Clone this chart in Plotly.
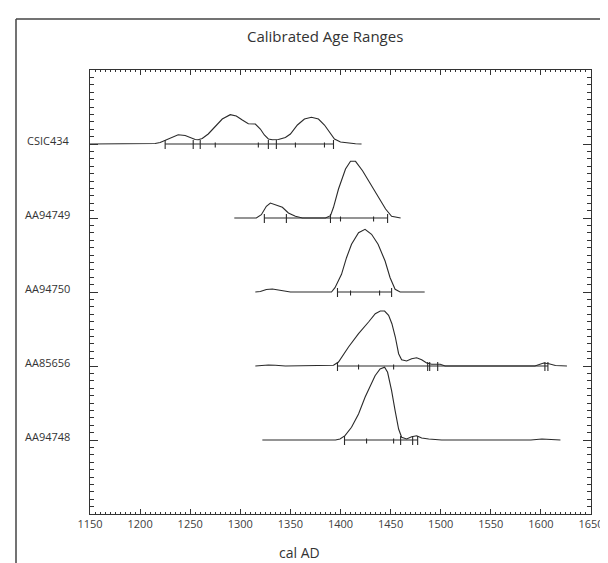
import plotly.graph_objects as go

# ---------------- data ----------------
samples = ["CSIC434", "AA94749", "AA94750", "AA85656", "AA94748"]

# calibrated probability curves (year AD, relative probability)
csic434_year = [1140, 1175, 1185, 1200, 1203, 1205, 1215, 1220, 1225, 1232, 1238, 1245, 1250, 1255, 1258,
                1262, 1268, 1275, 1282, 1290, 1296, 1302, 1308, 1315, 1320, 1324, 1328, 1332, 1338, 1345,
                1350, 1357, 1364, 1371, 1378, 1384, 1390, 1394, 1400, 1408, 1415, 1421]
csic434_prob = [0, 0, 0.5, 0.5, 0, 0.3, 0.5, 1.5, 3.5, 7, 9.3, 8.5, 6.5, 4.5, 4.3,
                5.5, 10, 18, 25, 29.3, 28, 24, 20.3, 20, 15, 9, 5, 4.3, 4.5, 6.5,
                10, 19, 25, 26.7, 25, 19, 10, 5, 2, 0.8, 0.3, 0]

aa94749_year = [1294, 1316, 1321, 1326, 1330, 1335, 1342, 1348, 1355, 1362, 1385, 1390, 1393, 1398,
                1405, 1410, 1415, 1422, 1430, 1438, 1445, 1451, 1460]
aa94749_prob = [0, 0, 3.3, 11.7, 15, 13.3, 10.7, 5, 1.7, 0, 0, 2.3, 10.7, 29,
                49, 56.7, 56.7, 47.3, 34, 20.7, 9, 1.7, 0]

aa94750_year = [1315, 1320, 1326, 1332, 1338, 1345, 1350, 1391, 1394.5, 1401, 1406, 1411, 1418, 1424.5,
                1431, 1437.5, 1444.5, 1449.5, 1454.5, 1459.5, 1484]
aa94750_prob = [0, 0.5, 2.5, 3, 2, 0.5, 0, 0, 4.3, 17.7, 34.3, 47.7, 59.3, 62.7,
                57.7, 47.7, 31, 14.3, 2.7, 0, 0]

aa85656_year = [1315, 1328, 1335, 1345, 1393, 1398, 1408, 1418, 1428, 1434.7, 1439.7, 1444, 1448, 1451.3,
                1454.7, 1458, 1461, 1466, 1471, 1476, 1481, 1486, 1491, 1499.5, 1504.5, 1594, 1602.7,
                1608, 1614.5, 1626]
aa85656_prob = [0, 1, 0.7, 0, 0.7, 4, 19, 32.3, 44, 52.3, 55, 55, 50.7, 42.3,
                29, 12.3, 6.3, 5, 7.3, 8.3, 6.3, 3, 1.7, 1.7, 0, 0, 3,
                2.3, 0.5, 0]

aa94748_year = [1322, 1395, 1399.5, 1404.5, 1411, 1418, 1424.5, 1429.5, 1434.5, 1439.5, 1444, 1447, 1451,
                1454.5, 1458, 1461, 1466, 1471, 1476, 1481, 1488, 1501, 1590, 1601, 1619.5]
aa94748_prob = [0, 0, 1, 4.3, 12.7, 26, 42.7, 54.3, 64.3, 71, 72.7, 67.7, 49.3,
                29.3, 11, 2.7, 1, 3.3, 4.3, 2, 1, 0, 0, 1, 0]

curve_years = [csic434_year, aa94749_year, aa94750_year, aa85656_year, aa94748_year]
curve_probs = [csic434_prob, aa94749_prob, aa94750_prob, aa85656_prob, aa94748_prob]

# range boundaries: 2-sigma (long marks) and 1-sigma (short marks)
two_sigma = [
    [1225, 1253, 1260, 1328, 1336, 1393],
    [1324, 1346, 1390, 1447],
    [1397, 1451],
    [1397, 1487, 1489, 1497, 1604, 1607],
    [1404, 1460, 1472, 1477],
]
one_sigma = [
    [1275, 1318, 1355, 1384],
    [1400, 1433],
    [1410, 1439],
    [1418, 1453],
    [1426, 1453],
]

x_tick_vals = [1150, 1200, 1250, 1300, 1350, 1400, 1450, 1500, 1550, 1600, 1650]

# ---------------- figure ----------------
ROW_PX = 74.0
LINE = "#2a2a2a"
fig = go.Figure()

n = len(samples)
for i, name in enumerate(samples):
    base = n - i
    fig.add_trace(go.Scatter(
        x=curve_years[i], y=[base + p / ROW_PX for p in curve_probs[i]],
        mode="lines", line=dict(color=LINE, width=1.1), hoverinfo="skip", showlegend=False))
    # range bars
    xs, ys = [], []
    for v in two_sigma[i]:
        xs += [v, v, None]
        ys += [base + 4 / ROW_PX, base - 5 / ROW_PX, None]
    for v in one_sigma[i]:
        xs += [v, v, None]
        ys += [base + 1.5 / ROW_PX, base - 3.5 / ROW_PX, None]
    allr = sorted(two_sigma[i] + one_sigma[i])
    xs += [allr[0], allr[-1], None]
    ys += [base, base, None]
    fig.add_trace(go.Scatter(
        x=xs, y=ys, mode="lines", line=dict(color=LINE, width=1.1),
        hoverinfo="skip", showlegend=False))

PL, PR, PT, PB = 82, 583, 62, 506
W, H = 608, 563

def px_x(px):
    return (px - PL) / (PR - PL)

def px_y(py):
    return (PB - py) / (PB - PT)

annotations = []
for i, name in enumerate(samples):
    base = n - i
    annotations.append(dict(
        x=px_x(64), xref="paper", y=base + 4 / ROW_PX, yref="y",
        text=name, showarrow=False, xanchor="right", yanchor="middle",
        font=dict(family="Open Sans", size=11, color="#333333")))
annotations.append(dict(
    x=px_x(317), xref="paper", y=px_y(28), yref="paper", text="Calibrated Age Ranges",
    showarrow=False, xanchor="center", yanchor="middle",
    font=dict(family="Open Sans", size=15, color="#333333")))
annotations.append(dict(
    x=px_x(291), xref="paper", y=px_y(544), yref="paper", text="cal AD",
    showarrow=False, xanchor="center", yanchor="middle",
    font=dict(family="Open Sans", size=14, color="#333333")))

shapes = [
    dict(type="line", xref="paper", yref="paper", x0=px_x(8), x1=px_x(620),
         y0=px_y(11), y1=px_y(11), line=dict(color="#444444", width=1.5)),
    dict(type="line", xref="paper", yref="paper", x0=px_x(8), x1=px_x(8),
         y0=px_y(11), y1=px_y(580), line=dict(color="#444444", width=1.5)),
]

fig.update_layout(
    width=W, height=H,
    margin=dict(l=PL, r=W - PR, t=PT, b=H - PB),
    paper_bgcolor="white", plot_bgcolor="white",
    annotations=annotations, shapes=shapes,
    xaxis=dict(range=[1150, 1650], tickmode="array", tickvals=x_tick_vals,
               ticks="inside", ticklen=5, tickcolor="#333333", tickwidth=1,
               showline=True, linecolor="#333333", linewidth=1, mirror="ticks",
               showgrid=False, zeroline=False,
               tickfont=dict(family="Open Sans", size=11, color="#404040"),
               minor=dict(tickmode="linear", tick0=1150, dtick=5, ticks="inside",
                          ticklen=2, tickcolor="#333333", showgrid=False)),
    yaxis=dict(range=[0, 6], tickmode="array", tickvals=[1, 2, 3, 4, 5],
               showticklabels=False,
               ticks="inside", ticklen=8, tickcolor="#333333", tickwidth=1,
               showline=True, linecolor="#333333", linewidth=1, mirror="ticks",
               showgrid=False, zeroline=False,
               minor=dict(tickmode="linear", tick0=0, dtick=0.1, ticks="inside",
                          ticklen=4, tickcolor="#333333", showgrid=False)),
)

fig.write_html("out.html")
